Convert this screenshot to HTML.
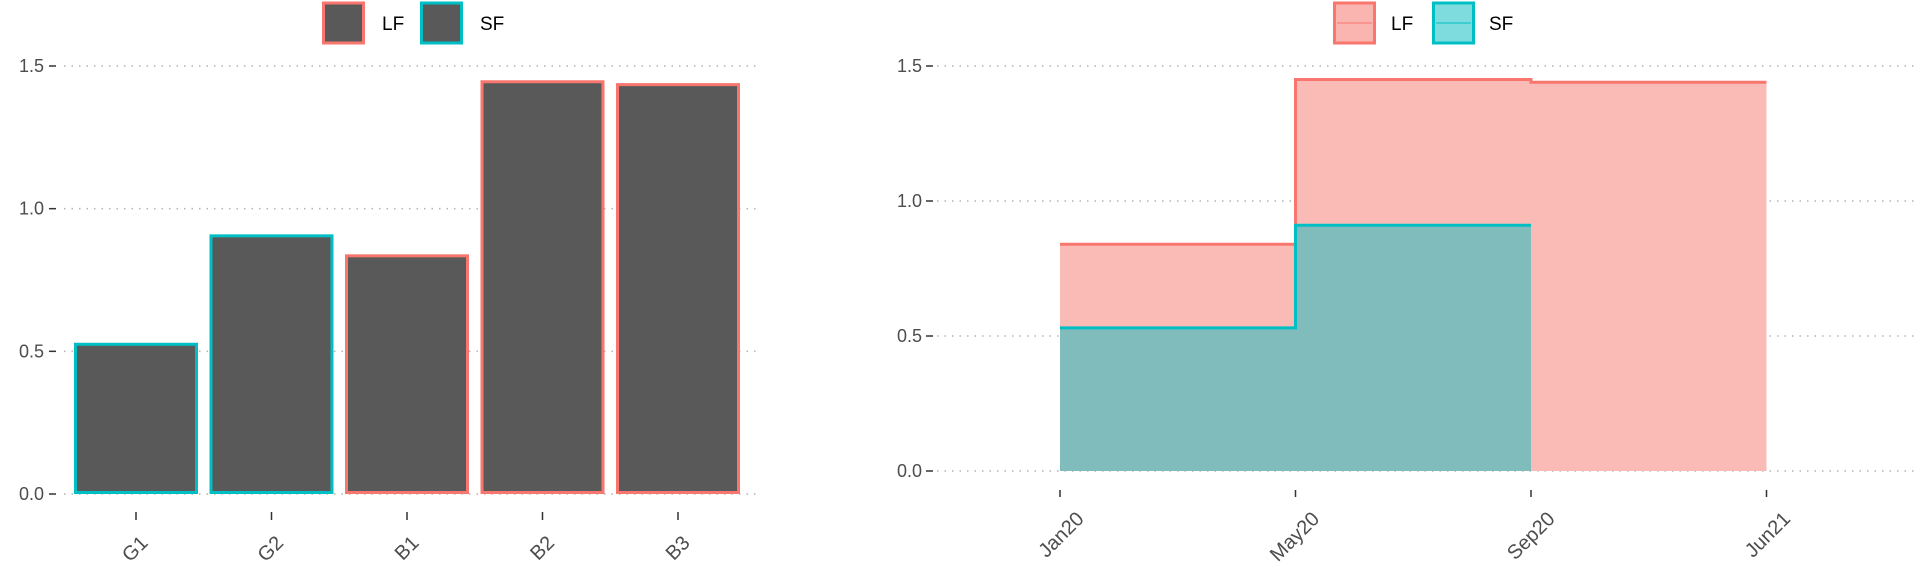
<!DOCTYPE html>
<html><head><meta charset="utf-8"><style>
body{margin:0;background:#fff;}
svg text{font-family:"Liberation Sans",sans-serif;}
</style></head><body>
<svg width="1920" height="576" viewBox="0 0 1920 576">
<g id="left"></g>
<g id="right"></g>
</svg>
<script>
const barCats = ["G1","G2","B1","B2","B3"];
const barVals = [0.53,0.91,0.84,1.45,1.44];
const barGroup = ["SF","SF","LF","LF","LF"];
const yTicks = [0,0.5,1.0,1.5];
const yTickLabels = ["0.0","0.5","1.0","1.5"];
const dateCats = ["Jan20","May20","Sep20","Jun21"];
const lfVals = [0.84,1.45,1.44];
const sfVals = [0.53,0.91];
const COL = {LF:"#F8766D",SF:"#00BFC4"};
const NS="http://www.w3.org/2000/svg";
function mk(p,t,a){const e=document.createElementNS(NS,t);for(const k in a)e.setAttribute(k,a[k]);p.appendChild(e);return e;}

// LEFT
const L=document.getElementById('left');
const ly=v=>494-v*(428/1.5);
const lx=i=>74+i*135.5;
const bw=124;
yTicks.forEach((t,i)=>{
  const g=mk(L,'line',{x1:64,x2:760,y1:ly(t),y2:ly(t),stroke:'#b3b3b3','stroke-width':1.5,'stroke-dasharray':'1.5 6'});
  
  const tk=mk(L,'line',{x1:49,x2:56,y1:ly(t),y2:ly(t),stroke:'#333','stroke-width':1.5});
  
  const tx=mk(L,'text',{x:44,y:ly(t)+6,'text-anchor':'end','font-size':18,fill:'#4d4d4d'});
  tx.textContent=yTickLabels[i];
  
});
barCats.forEach((c,i)=>{
  const x=lx(i);
  const r=mk(L,'rect',{x:x+1.5,y:ly(barVals[i])+1.5,width:bw-3,height:ly(0)-ly(barVals[i])-3,fill:'#595959',stroke:COL[barGroup[i]],'stroke-width':3});
  
  const cx=x+bw/2;
  const tk=mk(L,'line',{x1:cx,x2:cx,y1:512,y2:520,stroke:'#333','stroke-width':1.5});
  
  const tx=mk(L,'text',{x:cx+13,y:544,'text-anchor':'end','font-size':20,fill:'#4d4d4d',transform:`rotate(-45 ${cx+13} 544)`});
  tx.textContent=c;
  
});
function legend(P,x0,txs,fills,withLine){
  ["LF","SF"].forEach((k,i)=>{
    const r=mk(P,'rect',{x:x0[i]+1.5,y:3,width:40,height:40,fill:fills[i],stroke:COL[k],'stroke-width':3});
    
    if(withLine){const ln=mk(P,'line',{x1:x0[i]+4,x2:x0[i]+39,y1:23,y2:23,stroke:COL[k],'stroke-width':2,opacity:0.5});
      }
    const t=mk(P,'text',{x:txs[i],y:30,'font-size':19,fill:'#000'});t.textContent=k;
    
  });
}
legend(L,[322,420],[382,480],['#595959','#595959'],false);

// RIGHT
const R=document.getElementById('right');
const ry=v=>471-v*(405/1.5);
const rx=i=>1060+i*235.5;
yTicks.forEach((t,i)=>{
  const g=mk(R,'line',{x1:937,x2:1915,y1:ry(t),y2:ry(t),stroke:'#b3b3b3','stroke-width':1.5,'stroke-dasharray':'1.5 6'});
  
  const tk=mk(R,'line',{x1:926,x2:933,y1:ry(t),y2:ry(t),stroke:'#333','stroke-width':1.5});
  
  const tx=mk(R,'text',{x:922,y:ry(t)+6,'text-anchor':'end','font-size':18,fill:'#4d4d4d'});
  tx.textContent=yTickLabels[i];
  
});
function stepPath(vals,close){
  let d=`M${rx(0)},${ry(vals[0])}`;
  vals.forEach((v,i)=>{d+=` L${rx(i)},${ry(v)} L${rx(i+1)},${ry(v)}`;});
  if(close)d+=` L${rx(vals.length)},${ry(0)} L${rx(0)},${ry(0)} Z`;
  return d;
}
const la=mk(R,'path',{d:stepPath(lfVals,true),fill:'#FABAB6'});

const ll=mk(R,'path',{d:stepPath(lfVals,false),fill:'none',stroke:'#F8766D','stroke-width':3});

const sa=mk(R,'path',{d:stepPath(sfVals,true),fill:'#80BCBB'});

const sl=mk(R,'path',{d:stepPath(sfVals,false),fill:'none',stroke:'#00BFC4','stroke-width':3});

dateCats.forEach((c,i)=>{
  const cx=rx(i);
  const tk=mk(R,'line',{x1:cx,x2:cx,y1:490,y2:497,stroke:'#333','stroke-width':1.5});
  
  const tx=mk(R,'text',{x:cx+25,y:520,'text-anchor':'end','font-size':20,fill:'#4d4d4d',transform:`rotate(-45 ${cx+25} 520)`});
  tx.textContent=c;
  
});
legend(R,[1333,1432],[1391,1489],['#FAB5B0','#7FDCDE'],true);
</script>
</body></html>
